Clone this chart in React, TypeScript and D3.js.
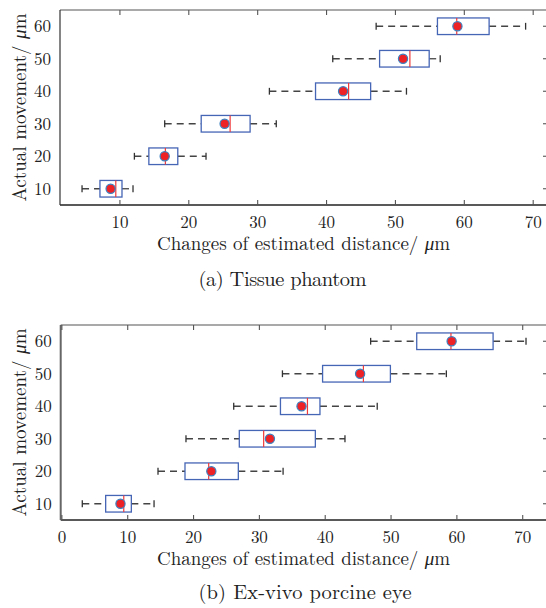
import React from "react";
import * as d3 from "d3";

// actual movement (y categories)
const movements = [10, 20, 30, 40, 50, 60];

// (a) tissue phantom, estimated distance change
const tissueLow = [4.5, 12.1, 16.5, 31.7, 40.9, 47.2];
const tissueQ1 = [7.1, 14.2, 21.8, 38.4, 47.7, 56.1];
const tissueMedian = [9.4, 16.6, 26.0, 43.2, 52.1, 58.9];
const tissueQ3 = [10.3, 18.4, 28.9, 46.4, 54.9, 63.6];
const tissueHigh = [11.9, 22.5, 32.7, 51.6, 56.5, 68.9];
const tissueMean = [8.65, 16.5, 25.2, 42.4, 51.1, 59.0];

// (b) ex-vivo porcine eye
const eyeLow = [3.1, 14.6, 18.85, 26.1, 33.5, 46.9];
const eyeQ1 = [6.65, 18.7, 26.95, 33.2, 39.6, 53.9];
const eyeMedian = [9.4, 22.3, 30.65, 37.3, 45.8, 59.1];
const eyeQ3 = [10.55, 26.8, 38.5, 39.2, 49.9, 65.5];
const eyeHigh = [14.0, 33.6, 43.0, 47.9, 58.4, 70.5];
const eyeMean = [8.9, 22.7, 31.6, 36.4, 45.3, 59.2];

const tissueXTicks = [10, 20, 30, 40, 50, 60, 70];
const eyeXTicks = [0, 10, 20, 30, 40, 50, 60, 70];
const yTicks = [10, 20, 30, 40, 50, 60];

const FONT = `"Latin Modern Roman", "Liberation Serif", serif`;

function BoxPanel({ offsetY, xDomain, left, xTicks, low, q1, median, q3, high, mean, caption, captionY, captionLen, thickLeft }) {
    const top = 10;
    const bottom = 205;
    const right = 548;

    const x = d3.scaleLinear().domain(xDomain).range([left, right]);
    const y = d3.scaleLinear().domain([5, 65]).range([bottom, top]);

    const half = 8.3; // box half height in px
    const cap = 3.4;

    return (
        <g transform={`translate(0,${offsetY})`}>
            {/* axes frame */}
            <line x1={left} x2={right} y1={top} y2={top} stroke="#555" strokeWidth={1.2} />
            <line x1={left} x2={right} y1={bottom} y2={bottom} stroke="#222" strokeWidth={1.3} />
            <line x1={left} x2={left} y1={top} y2={bottom} stroke={thickLeft ? "#666" : "#333"} strokeWidth={thickLeft ? 2 : 1.2} />

            {/* x ticks, top and bottom, pointing inward */}
            {xTicks.map(t => (
                <g key={"x" + t}>
                    <line x1={x(t)} x2={x(t)} y1={top} y2={top + 5} stroke="#555" strokeWidth={1.1} />
                    <line x1={x(t)} x2={x(t)} y1={bottom} y2={bottom - 5} stroke="#555" strokeWidth={1.1} />
                    <text x={x(t)} y={bottom + 23} textAnchor="middle" style={{ fontFamily: FONT }} fontSize={17} fill="#222">{t}</text>
                </g>
            ))}

            {/* y ticks */}
            {yTicks.map(t => (
                <g key={"y" + t}>
                    <line x1={right - 5} x2={right} y1={y(t)} y2={y(t)} stroke="#555" strokeWidth={1.1} />
                    <text x={left - 9} y={y(t) + 5.8} textAnchor="end" style={{ fontFamily: FONT }} fontSize={17} fill="#222">{t}</text>
                </g>
            ))}

            {/* boxes */}
            {movements.map((m, i) => {
                const cy = y(m);
                return (
                    <g key={"b" + m}>
                        <line x1={x(low[i])} x2={x(q1[i])} y1={cy} y2={cy} stroke="#444" strokeWidth={1.3} strokeDasharray="7 5" />
                        <line x1={x(q3[i])} x2={x(high[i])} y1={cy} y2={cy} stroke="#444" strokeWidth={1.3} strokeDasharray="7 5" />
                        <line x1={x(low[i])} x2={x(low[i])} y1={cy - cap} y2={cy + cap} stroke="#333" strokeWidth={1.3} />
                        <line x1={x(high[i])} x2={x(high[i])} y1={cy - cap} y2={cy + cap} stroke="#333" strokeWidth={1.3} />
                        <rect x={x(q1[i])} y={cy - half} width={x(q3[i]) - x(q1[i])} height={half * 2}
                            fill="white" stroke="#4565b5" strokeWidth={1.3} />
                        <line x1={x(median[i])} x2={x(median[i])} y1={cy - half} y2={cy + half} stroke="#f03a3a" strokeWidth={1.2} />
                        <circle cx={x(mean[i])} cy={cy} r={4.6} fill="#ec2227" stroke="#3a80c0" strokeWidth={1.2} />
                    </g>
                );
            })}

            {/* axis titles */}
            <text x={157} y={250} style={{ fontFamily: FONT }} fontSize={19} fill="#222" textLength={293} lengthAdjust="spacing">
                Changes of estimated distance/ <tspan fontStyle="italic">μ</tspan>m
            </text>
            <text transform={`translate(26,${201.5}) rotate(-90)`} style={{ fontFamily: FONT }} fontSize={19} fill="#222" textLength={188} lengthAdjust="spacing">
                Actual movement/ <tspan fontStyle="italic">μ</tspan>m
            </text>

            {/* caption */}
            <text x={198.5} y={captionY} style={{ fontFamily: FONT }} fontSize={20.5} fill="#222" textLength={captionLen} lengthAdjust="spacing">
                {caption}
            </text>
        </g>
    );
}

export default function App() {
    return (
        <svg width={546} height={608} style={{ position: "absolute", left: 0, top: 0, background: "white" }}>
            <rect width={546} height={608} fill="white" />
            <BoxPanel offsetY={0} xDomain={[1.3, 72.15]} left={60} xTicks={tissueXTicks}
                low={tissueLow} q1={tissueQ1} median={tissueMedian} q3={tissueQ3} high={tissueHigh} mean={tissueMean}
                caption="(a) Tissue phantom" captionY={286} captionLen={168} thickLeft={false} />
            <BoxPanel offsetY={315} xDomain={[-0.18, 73.84]} left={60.7} xTicks={eyeXTicks}
                low={eyeLow} q1={eyeQ1} median={eyeMedian} q3={eyeQ3} high={eyeHigh} mean={eyeMean}
                caption="(b) Ex-vivo porcine eye" captionY={284} captionLen={213} thickLeft={true} />
        </svg>
    );
}
